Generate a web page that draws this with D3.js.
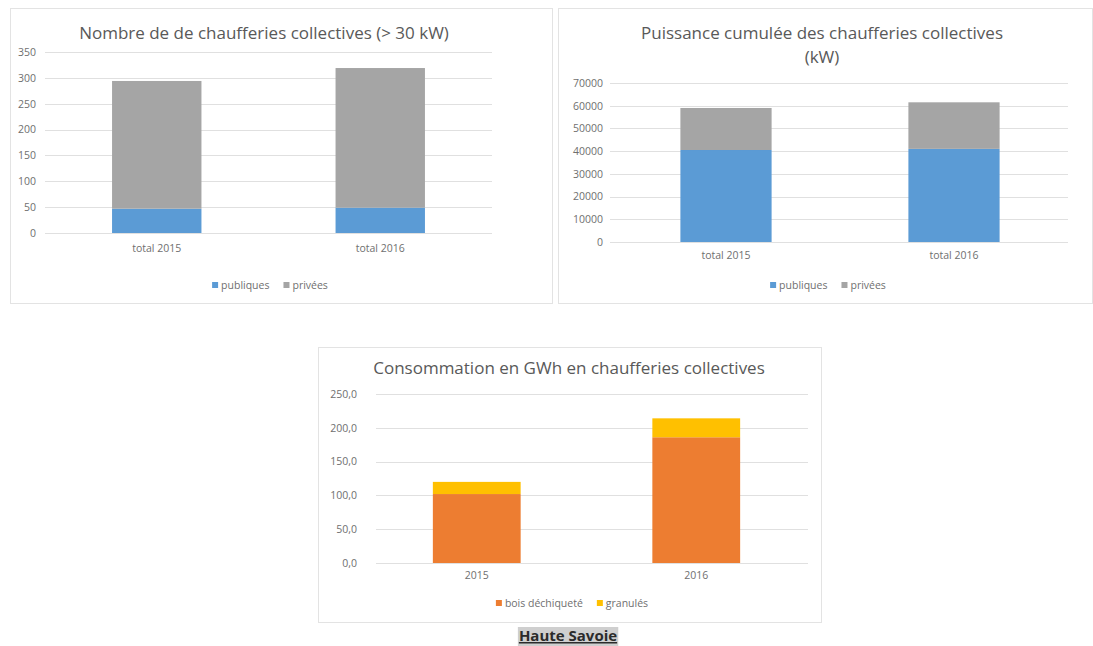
<!DOCTYPE html>
<html><head><meta charset="utf-8">
<script src="https://cdn.jsdelivr.net/npm/d3@7"></script>
<style>
body{margin:0;background:#fff;}
svg{display:block;font-family:"Open Sans",sans-serif;}
</style></head>
<body>
<svg id="c" width="1093" height="646"></svg>
<script>
// ---- data ----
const cats1 = ["total 2015","total 2016"];
const publiques1 = [47, 49];
const privees1 = [247, 270];
const ticks1 = [0,50,100,150,200,250,300,350];

const cats2 = ["total 2015","total 2016"];
const publiques2 = [40500, 41000];
const privees2 = [18500, 20500];
const ticks2 = [0,10000,20000,30000,40000,50000,60000,70000];

const cats3 = ["2015","2016"];
const boisDechiquete = [102, 186];
const granules = [18, 28];
const ticks3 = [0,50,100,150,200,250];

const seriesNames1 = ["publiques","privées"];
const seriesNames3 = ["bois déchiqueté","granulés"];
const colors1 = ["#5B9BD5","#A5A5A5"];
const colors3 = ["#ED7D31","#FFC000"];

const svg = d3.select("#c");
const textCol = "#595959";
const tickCol = "#6f6f6f";
const tickSize = 10.5;

function panel(cfg){
  const g = svg.append("g");
  g.append("rect").attr("x",cfg.box[0]+0.5).attr("y",cfg.box[1]+0.5)
    .attr("width",cfg.box[2]).attr("height",cfg.box[3])
    .attr("fill","#fff").attr("stroke","#e3e3e3");
  cfg.title.forEach((t,i)=>{
    g.append("text").attr("x",cfg.titleX).attr("y",cfg.titleY+i*24)
      .attr("text-anchor","middle").attr("font-size",17).attr("fill",textCol).text(t);
  });
  const x = d3.scaleBand().domain(cfg.cats).range(cfg.xr).paddingInner(0.6).paddingOuter(0.3);
  const y = d3.scaleLinear().domain([0,cfg.max]).range(cfg.yr);
  // gridlines
  g.append("g").selectAll("line").data(cfg.ticks).join("line")
    .attr("x1",cfg.gr[0]).attr("x2",cfg.gr[1])
    .attr("y1",d=>Math.round(y(d))+0.5).attr("y2",d=>Math.round(y(d))+0.5)
    .attr("stroke","#e0e0e0");
  // y axis labels
  const ya = d3.axisLeft(y).tickValues(cfg.ticks).tickSize(0).tickPadding(0).tickFormat(cfg.fmt);
  const yg = g.append("g").attr("transform",`translate(${cfg.labelX},0)`).call(ya);
  yg.select(".domain").remove();
  yg.selectAll("text").attr("font-size",tickSize).attr("fill",tickCol).attr("font-family","Open Sans, sans-serif");
  // stacks
  const data = cfg.cats.map((c,i)=>({cat:c, a:cfg.s1[i], b:cfg.s2[i]}));
  const stack = d3.stack().keys(["a","b"])(data);
  stack.forEach((layer,li)=>{
    g.append("g").selectAll("rect").data(layer).join("rect")
      .attr("x",d=>x(d.data.cat)).attr("width",x.bandwidth())
      .attr("y",d=>y(d[1])).attr("height",d=>y(d[0])-y(d[1]))
      .attr("fill",cfg.colors[li]);
  });
  // x axis labels
  const xa = d3.axisBottom(x).tickSize(0).tickPadding(0);
  const xg = g.append("g").attr("transform",`translate(0,${cfg.xLabelY})`).call(xa);
  xg.select(".domain").remove();
  xg.selectAll("text").attr("font-size",tickSize).attr("fill",tickCol).attr("font-family","Open Sans, sans-serif");
  // legend (centered)
  const lg = g.append("g");
  let cx = 0;
  cfg.names.forEach((n,i)=>{
    lg.append("rect").attr("x",cx).attr("y",cfg.legY-3).attr("width",6).attr("height",6).attr("fill",cfg.colors[i]);
    const t = lg.append("text").attr("x",cx+9).attr("y",cfg.legY).attr("dy","0.35em")
      .attr("font-size",tickSize).attr("fill",tickCol).text(n);
    cx += 9 + t.node().getComputedTextLength() + 14;
  });
  const w = cx - 14;
  lg.attr("transform",`translate(${cfg.legX - w/2},0)`);
}

panel({box:[10,8,542,295], title:["Nombre de de chaufferies collectives (> 30 kW)"], titleX:264, titleY:39,
  cats:cats1, s1:publiques1, s2:privees1, ticks:ticks1, max:350, xr:[45,492], gr:[45,492], yr:[233,52],
  labelX:36, fmt:d=>d, colors:colors1, xLabelY:245, legY:285, legX:270, names:seriesNames1});

panel({box:[558,8,534,295], title:["Puissance cumulée des chaufferies collectives","(kW)"], titleX:822, titleY:39,
  cats:cats2, s1:publiques2, s2:privees2, ticks:ticks2, max:70000, xr:[612,1068], gr:[610,1068], yr:[242,83],
  labelX:603, fmt:d=>d, colors:colors1, xLabelY:252, legY:285, legX:828, names:seriesNames1});

panel({box:[318,347,503,275], title:["Consommation en GWh en chaufferies collectives"], titleX:569, titleY:374,
  cats:cats3, s1:boisDechiquete, s2:granules, ticks:ticks3, max:250, xr:[367,806], gr:[376,808], yr:[563,394],
  labelX:357, fmt:d=>d3.format(".1f")(d).replace(".",","), colors:colors3, xLabelY:572, legY:603, legX:572, names:seriesNames3});

// caption
const capG = svg.append("g");
const capBg = capG.append("rect").attr("fill","#cfcfcf");
const cap = capG.append("text").attr("x",568).attr("y",641).attr("text-anchor","middle")
  .attr("font-size",15).attr("font-weight","bold").attr("fill","#2b2b2b")
  .attr("text-decoration","underline").text("Haute Savoie");
const bb = cap.node().getBBox();
capBg.attr("x",bb.x-1).attr("y",627).attr("width",bb.width+2).attr("height",19);
</script>
</body></html>
